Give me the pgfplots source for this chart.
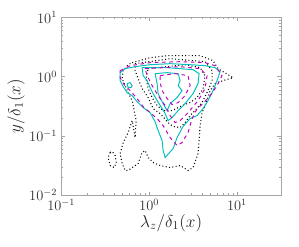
\documentclass[border=0pt]{standalone}
\usepackage{pgfplots}
\pgfplotsset{compat=1.18}
\definecolor{cyanc}{rgb}{0,0.75,0.75}
\definecolor{magc}{rgb}{0.75,0,0.75}
\begin{document}
\begin{tikzpicture}
\path (-51pt,-42.5pt) rectangle (198pt,162.5pt);
\begin{axis}[
  at={(0,0)}, anchor=south west,
  scale only axis, width=183pt, height=148pt,
  xmode=log, ymode=log,
  xmin=0.1, xmax=31.62, ymin=0.01, ymax=10,
  axis line style={gray!70, line width=0.5pt},
  tick style={gray!70, line width=0.4pt},
  tick align=inside,
  major tick length=3pt, minor tick length=1.5pt,
  xtick={0.1,1,10}, ytick={0.01,0.1,1,10},
  tick label style={font=\large, text=black!80},
  xlabel={$\lambda_z/\delta_1(x)$},
  ylabel={$y/\delta_1(x)$},
  label style={font=\Large, text=black!85},
  xlabel style={yshift=4pt},
  ylabel style={yshift=-3pt},
  every axis plot/.append style={line width=0.8pt},
]
% black dotted contours
\addplot[black, dotted, line width=0.9pt] coordinates {
(0.641,1.722) (1.026,2.089) (1.602,2.259) (3.802,2.259) (5.333,1.862) (6.081,1.364)
(9.016,0.962) (6.934,0.856) (5.623,0.762) (4.932,0.581) (4.560,0.394) (4.000,0.247)
(3.802,0.149) (3.698,0.0834) (3.603,0.0504) (3.162,0.0292) (2.773,0.0261) (2.250,0.0316)
(1.733,0.0292) (1.334,0.0316) (1.110,0.0355) (0.975,0.0431) (0.901,0.0566) (0.832,0.0524)
(0.750,0.0342) (0.641,0.0292) (0.577,0.0261) (0.534,0.0261) (0.493,0.0342) (0.468,0.0504)
(0.507,0.0772) (0.577,0.114) (0.641,0.181) (0.693,0.0937) (0.711,0.181) (0.676,0.267)
(0.641,0.394) (0.577,0.537) (0.534,0.705) (0.493,0.925) (0.507,1.262) (0.577,1.592)
(0.641,1.722)};
\addplot[black, dotted, line width=0.9pt] coordinates {
(0.360,0.0524) (0.342,0.0431) (0.360,0.0316) (0.400,0.0292) (0.422,0.0355)
(0.411,0.0466) (0.380,0.0544) (0.360,0.0524)};
\addplot[black, dotted, line width=0.9pt] coordinates {
(0.693,1.656) (1.733,2.011) (4.325,1.790) (5.200,1.262) (5.200,0.856) (4.677,0.581)
(4.000,0.365) (3.333,0.267) (2.924,0.220) (2.564,0.168) (2.250,0.138) (1.874,0.144)
(1.644,0.168) (1.334,0.238) (1.110,0.289) (0.975,0.443) (0.832,0.628) (0.750,0.925)
(0.693,1.262) (0.693,1.656)};
\addplot[black, dotted, line width=0.9pt] coordinates {
(0.975,1.364) (2.564,1.592) (3.802,1.418) (4.325,1.040) (4.111,0.628) (3.508,0.443)
(2.924,0.365) (2.371,0.325) (1.826,0.267) (1.443,0.267) (1.233,0.325) (1.082,0.443)
(0.975,0.628) (0.924,0.925) (0.975,1.364)};
% cyan solid contours
\addplot[cyanc, solid] coordinates {
(0.468,1.168) (0.534,1.364) (0.693,1.474) (1.026,1.592) (1.733,1.656) (2.924,1.592)
(4.325,1.532) (5.623,1.418) (6.412,1.214) (5.929,0.856) (5.333,0.581) (4.677,0.394)
(4.111,0.289) (3.508,0.220) (2.924,0.196) (2.433,0.144) (2.080,0.0937) (1.874,0.0611)
(1.520,0.0431) (1.443,0.0566) (1.405,0.0834) (1.265,0.123) (1.170,0.174) (1.026,0.247)
(0.855,0.300) (0.731,0.379) (0.641,0.478) (0.562,0.537) (0.507,0.678) (0.468,0.856)
(0.468,1.168)};
\addplot[cyanc, solid] coordinates {
(0.562,0.762) (0.608,0.792) (0.641,0.705) (0.624,0.653) (0.577,0.653) (0.562,0.762)};
\addplot[cyanc, solid] coordinates {
(0.832,1.418) (1.602,1.418) (3.162,1.312) (3.698,1.124) (3.603,0.762) (3.162,0.517)
(2.564,0.351) (2.138,0.267) (1.826,0.204) (1.644,0.181) (1.520,0.238) (1.405,0.289)
(1.233,0.394) (1.110,0.517) (1.026,0.653) (0.949,0.856) (0.855,1.040) (0.832,1.418)};
\addplot[cyanc, solid] coordinates {
(1.170,1.124) (1.602,1.168) (2.138,1.124) (2.250,0.856) (2.138,0.705) (2.371,0.581)
(2.080,0.443) (1.733,0.351) (1.602,0.267) (1.443,0.351) (1.265,0.517) (1.233,0.762)
(1.170,1.124)};
% magenta dashed contours
\addplot[magc, dashed] coordinates {
(0.468,1.262) (0.608,1.532) (1.026,1.722) (2.250,1.790) (4.325,1.722) (5.623,1.532)
(6.761,1.040) (5.929,0.705) (4.932,0.478) (4.111,0.351) (3.508,0.289) (3.081,0.196)
(2.773,0.114) (2.371,0.0772) (2.080,0.0687) (1.733,0.0937) (1.443,0.149) (1.233,0.196)
(1.026,0.247) (0.855,0.312) (0.731,0.426) (0.608,0.581) (0.520,0.733) (0.468,0.962)
(0.468,1.262)};
\addplot[magc, dashed] coordinates {
(0.901,1.364) (2.250,1.474) (3.802,1.364) (4.560,1.040) (4.325,0.628) (3.603,0.394)
(2.773,0.247) (2.250,0.181) (1.974,0.168) (1.733,0.220) (1.520,0.325) (1.265,0.478)
(1.082,0.705) (0.949,1.040) (0.901,1.364)};
\addplot[magc, dashed] coordinates {
(1.334,1.040) (1.974,1.124) (2.773,1.040) (2.924,0.705) (2.564,0.478) (2.138,0.365)
(1.826,0.338) (1.602,0.426) (1.405,0.581) (1.334,0.792) (1.334,1.040)};
\end{axis}
\end{tikzpicture}
\end{document}
